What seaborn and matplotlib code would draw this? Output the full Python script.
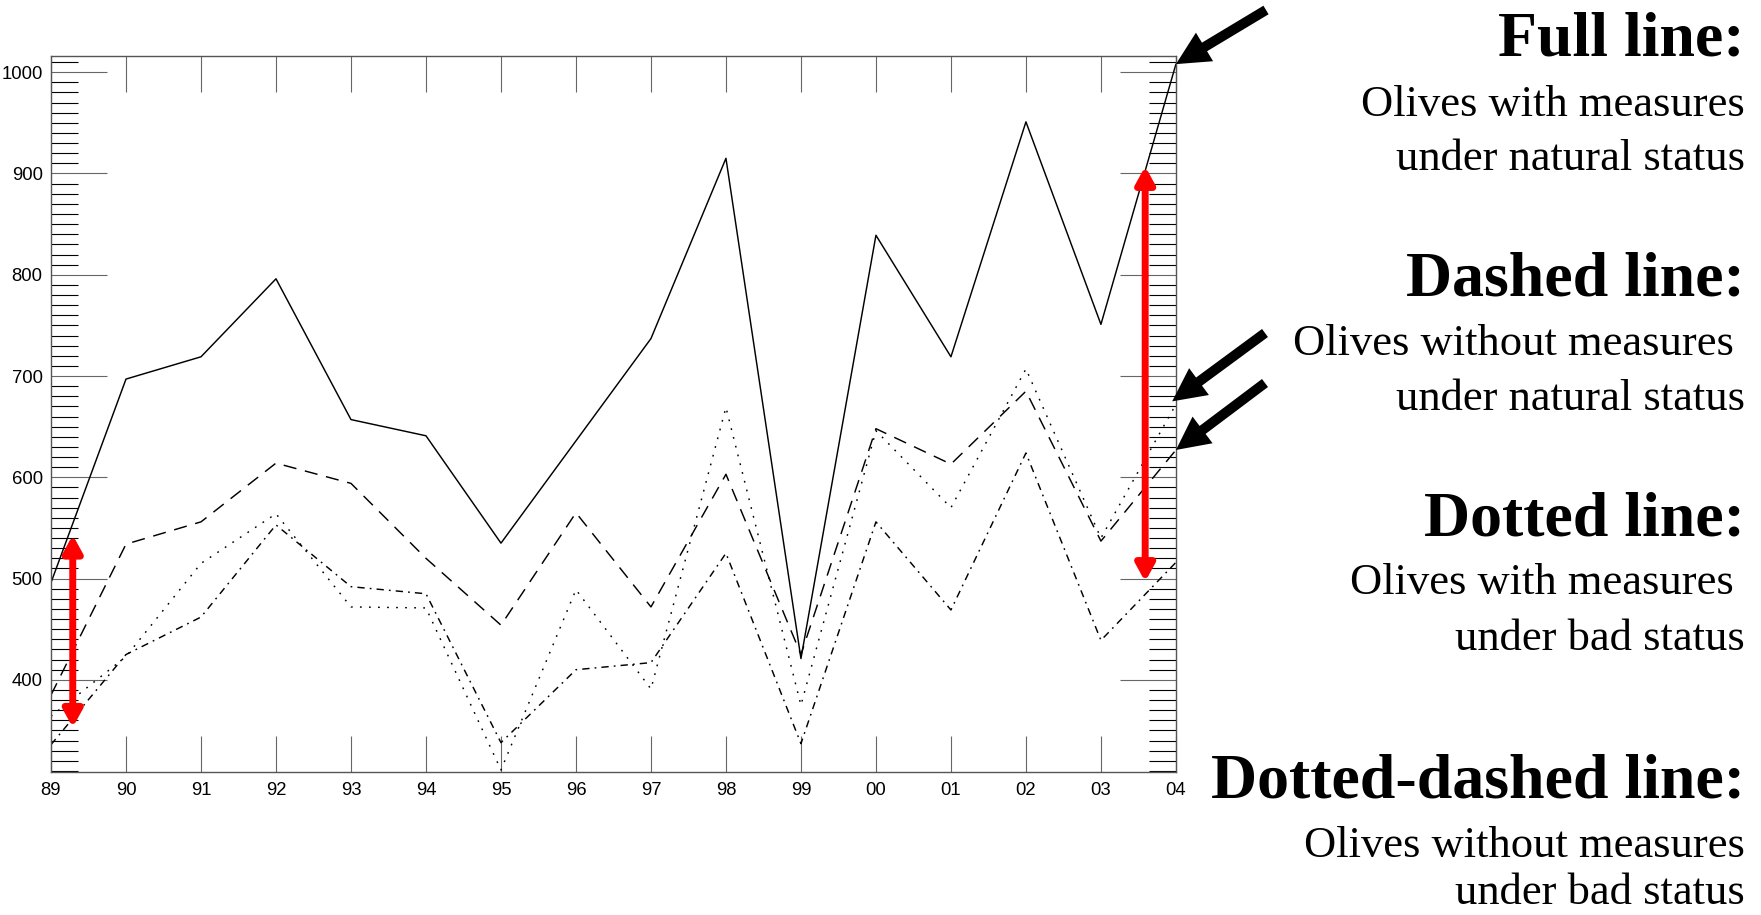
import pandas as pd
import matplotlib
matplotlib.use('Agg')
import matplotlib.pyplot as plt
from matplotlib import font_manager
from matplotlib.ticker import MultipleLocator
import seaborn as sns

# Values
years = ['89', '90', '91', '92', '93', '94', '95', '96', '97', '98', '99', '00', '01', '02', '03', '04']
full_line = [496, 697, 719, 796, 657, 641, 535, 636, 737, 915, 421, 839, 719, 951, 751, 1008]
dashed_line = [385, 534, 556, 614, 594, 520, 454, 565, 472, 603, 425, 648, 613, 685, 537, 627]
dotted_line = [364, 423, 515, 564, 472, 471, 311, 489, 391, 669, 375, 646, 570, 707, 540, 672]
dotdash_line = [336, 425, 462, 553, 492, 485, 338, 410, 417, 525, 337, 556, 469, 624, 439, 516]

# red double arrows: (x position, low value, high value)
left_span = (0.29, 353, 543)
right_span = (14.59, 497, 907)

headers = ['Full line:', 'Dashed line:', 'Dotted line:', 'Dotted-dashed line:']
descriptions = [
    ['Olives with measures', 'under natural status'],
    ['Olives without measures ', 'under natural status'],
    ['Olives with measures ', 'under bad status'],
    ['Olives without measures', 'under bad status'],
]

sns.set_style('white')
installed = {f.name for f in font_manager.fontManager.ttflist}
tick_font = 'Liberation Sans Narrow' if 'Liberation Sans Narrow' in installed else 'Liberation Sans'
plt.rcParams['font.family'] = [tick_font, 'DejaVu Sans']
plt.rcParams['text.color'] = 'black'
plt.rcParams['xtick.color'] = 'black'
plt.rcParams['ytick.color'] = 'black'

df = pd.DataFrame({
    'pos': list(range(len(years))) * 4,
    'value': full_line + dashed_line + dotted_line + dotdash_line,
    'series': ['full'] * 16 + ['dashed'] * 16 + ['dotted'] * 16 + ['dotdash'] * 16,
})
dash_map = {'full': '', 'dashed': (9, 6), 'dotted': (1.2, 5), 'dotdash': (5, 3.5, 1.2, 3.5)}

fig = plt.figure(figsize=(17.61, 9.15), dpi=100)
ax = fig.add_axes([0.02896, 0.15628, 0.6388, 0.7825])

sns.lineplot(data=df, x='pos', y='value', style='series', dashes=dash_map,
             color='black', linewidth=1.05, legend=False, sort=False,
             estimator=None, ax=ax)

ax.set_xlim(0, 15)
ax.set_ylim(309, 1016)
ax.set_xticks(range(len(years)))
ax.set_xticklabels(years)
ax.set_yticks(range(400, 1001, 100))
ax.yaxis.set_minor_locator(MultipleLocator(10))
ax.set_xlabel('')
ax.set_ylabel('')

ax.tick_params(axis='y', which='major', direction='in', length=40, width=0.8,
               color='#666666', left=True, right=True, labelsize=13.3, pad=6,
               labelcolor='black')
ax.tick_params(axis='y', which='minor', direction='in', length=19.5, width=0.8,
               color='black', left=True, right=True)
ax.tick_params(axis='x', which='major', direction='in', length=26, width=0.8,
               color='#666666', bottom=True, top=True, labelsize=13.3, pad=7,
               labelcolor='black')
for sp in ax.spines.values():
    sp.set_color('#555555')
    sp.set_linewidth(1)

# red double arrows
for xs, lo, hi in [left_span, right_span]:
    ax.annotate('', xy=(xs, hi), xytext=(xs, lo),
                arrowprops=dict(arrowstyle='<|-|>,head_length=10,head_width=5.5',
                                color='red', lw=5, shrinkA=0, shrinkB=0,
                                mutation_scale=1))

# black pointer arrows
black_style = dict(arrowstyle='simple,head_length=2.4,head_width=2.4,tail_width=0.72',
                   mutation_scale=10, fc='black', ec='black', lw=0,
                   shrinkA=0, shrinkB=0)
ax.annotate('', xy=(15, full_line[-1]), xycoords='data',
            xytext=(1266, 915 - 10), textcoords='figure pixels', arrowprops=black_style)
ax.annotate('', xy=(14.95, dotted_line[-1] + 3), xycoords='data',
            xytext=(1265, 915 - 333), textcoords='figure pixels', arrowprops=black_style)
ax.annotate('', xy=(15, dashed_line[-1]), xycoords='data',
            xytext=(1265, 915 - 383), textcoords='figure pixels', arrowprops=black_style)

# legend-like text on the right
W, H = 1761, 915
header_base = [56, 296, 536, 797]
line_base = [[116, 170], [355, 410], [594, 650], [857, 904]]
for head, hb, desc, lb in zip(headers, header_base, descriptions, line_base):
    fig.text(1745 / W, 1 - hb / H, head, ha='right', va='baseline', color='black',
             fontfamily='Liberation Serif', fontweight='bold', fontsize=46)
    for s, b in zip(desc, lb):
        fig.text(1745 / W, 1 - b / H, s, ha='right', va='baseline', color='black',
                 fontfamily='Liberation Serif', fontsize=32)

fig.savefig('out.png', dpi=100)
